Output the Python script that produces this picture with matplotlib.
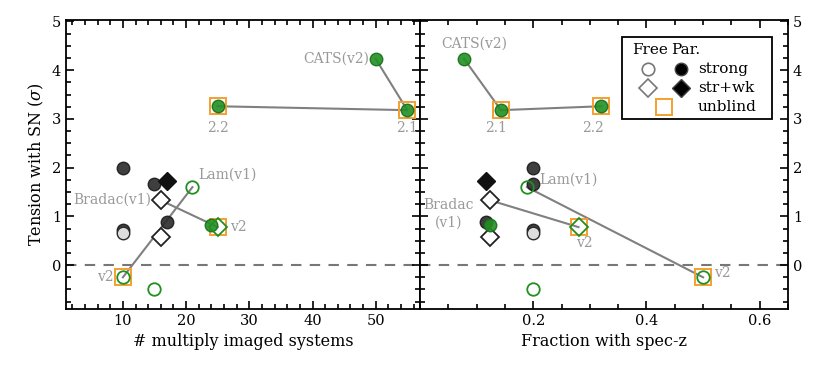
import matplotlib
matplotlib.use("Agg")
import matplotlib.pyplot as plt
from matplotlib.patches import Rectangle
from matplotlib.ticker import MultipleLocator

plt.rcParams['font.family'] = ['DejaVu Serif']
plt.rcParams['mathtext.fontset'] = 'dejavuserif'

# ---- data ----
# each model: tension, number of multiply imaged systems, fraction with spec-z
tension    = [2.00, 1.67, 1.72, 0.88, 0.72, 0.65, 1.33, 0.58, 1.60, 0.83, 0.78, -0.25, -0.49, 4.23, 3.18, 3.26]
n_systems  = [10,   15,   17,   17,   10,   10,   16,   16,   21,   24,   25,   10,    15,    50,   55,   25]
frac_specz = [0.200, 0.200, 0.117, 0.116, 0.200, 0.200, 0.124, 0.124, 0.189, 0.124, 0.280, 0.500, 0.200, 0.078, 0.143, 0.320]
kind       = ['pc', 'pc', 'pd', 'pc', 'pc', 'pcl', 'fd', 'fd', 'gfc', 'gpc', 'gfd', 'gfc', 'gfc', 'gpc', 'gpc', 'gpc']
unblind    = [False]*10 + [True, True, False, False, True, True]

# connecting lines (indices)
links = [[13, 14, 15], [6, 10], [8, 11]]

GREEN = '#228f22'
GREY = '#999999'

fig = plt.figure(figsize=(8.3, 3.73), dpi=100)
axL = fig.add_axes([0.0795, 0.1716, 0.4265, 0.7748])
axR = fig.add_axes([0.506, 0.1716, 0.4434, 0.7748])


def style(ax):
    ax.tick_params(which='both', direction='in', top=True, bottom=True, left=True, right=True,
                   labelsize=10.5, width=1.2)
    ax.tick_params(which='major', length=6)
    ax.tick_params(which='minor', length=3.5)
    for s in ax.spines.values():
        s.set_linewidth(1.3)
    ax.set_ylim(-0.9, 5.03)
    ax.yaxis.set_major_locator(MultipleLocator(1))
    ax.yaxis.set_minor_locator(MultipleLocator(0.25))
    ax.axhline(0, color='#777777', ls=(0, (5, 4)), lw=1.5, zorder=1)


def draw(ax, xs):
    for lk in links:
        ax.plot([xs[i] for i in lk], [tension[i] for i in lk], color='#808080', lw=1.5, zorder=2)
    for i, (x, y) in enumerate(zip(xs, tension)):
        k = kind[i]
        if unblind[i]:
            ax.plot(x, y, marker='s', ms=11, mfc='none', mec='#f5a030', mew=1.4, zorder=3)
        if k == 'pc':
            ax.plot(x, y, 'o', ms=9, mfc='#2a2a2a', mec='#1a1a1a', alpha=0.9, zorder=4)
        elif k == 'pcl':
            ax.plot(x, y, 'o', ms=9, mfc='#dddddd', mec='#2a2a2a', mew=1.0, zorder=4)
        elif k == 'pd':
            ax.plot(x, y, 'D', ms=9, mfc='#111111', mec='#111111', zorder=4)
        elif k == 'fd':
            ax.plot(x, y, 'D', ms=9, mfc='white', mec='#222222', mew=1.3, zorder=4)
        elif k == 'gfc':
            ax.plot(x, y, 'o', ms=9, mfc='none', mec=GREEN, mew=1.3, zorder=5)
        elif k == 'gfd':
            ax.plot(x, y, 'D', ms=9, mfc='none', mec=GREEN, mew=1.3, zorder=5)
        elif k == 'gpc':
            ax.plot(x, y, 'o', ms=9, mfc=GREEN, mec='#177017', alpha=0.9, zorder=5)


style(axL)
style(axR)
draw(axL, n_systems)
draw(axR, frac_specz)

axL.set_xlim(1, 57)
axL.xaxis.set_minor_locator(MultipleLocator(2))
axL.set_xticks([10, 20, 30, 40, 50])
axL.set_xlabel('# multiply imaged systems', fontsize=11.5)
axL.set_ylabel(r'Tension with SN ($\sigma$)', fontsize=11.5)

axR.set_xlim(0, 0.65)
axR.set_xticks([0.2, 0.4, 0.6])
axR.set_xticklabels(['0.2', '0.4', '0.6'])
axR.xaxis.set_minor_locator(MultipleLocator(0.05))
axR.tick_params(labelleft=False, labelright=True)
axR.set_xlabel('Fraction with spec-z', fontsize=11.5)

tk = dict(color=GREY, fontsize=10)
# left annotations
axL.text(49, 4.23, 'CATS(v2)', ha='right', va='center', **tk)
axL.text(25, 2.95, '2.2', ha='center', va='top', **tk)
axL.text(55, 2.95, '2.1', ha='center', va='top', **tk)
axL.text(22, 1.85, 'Lam(v1)', ha='left', va='center', **tk)
axL.text(14.5, 1.35, 'Bradac(v1)', ha='right', va='center', **tk)
axL.text(27, 0.78, 'v2', ha='left', va='center', **tk)
axL.text(8.6, -0.25, 'v2', ha='right', va='center', **tk)
# right annotations
axR.text(0.095, 4.55, 'CATS(v2)', ha='center', va='center', **tk)
axR.text(0.135, 2.95, '2.1', ha='center', va='top', **tk)
axR.text(0.305, 2.95, '2.2', ha='center', va='top', **tk)
axR.text(0.21, 1.75, 'Lam(v1)', ha='left', va='center', **tk)
axR.text(0.05, 1.05, 'Bradac\n(v1)', ha='center', va='center', linespacing=1.3, **tk)
axR.text(0.29, 0.45, 'v2', ha='center', va='center', **tk)
axR.text(0.52, -0.17, 'v2', ha='left', va='center', **tk)

# legend (drawn manually in axes coordinates)
T = axR.transAxes
axR.add_patch(Rectangle((0.549, 0.657), 0.408, 0.284, transform=T, fill=True, fc='white',
                        ec='black', lw=1.3, zorder=10))
axR.text(0.577, 0.896, 'Free', transform=T, ha='left', va='center', fontsize=11, zorder=11)
axR.text(0.683, 0.896, 'Par.', transform=T, ha='left', va='center', fontsize=11, zorder=11)
axR.plot(0.620, 0.830, 'o', transform=T, ms=9, mfc='white', mec='#777777', mew=1.2, zorder=11)
axR.plot(0.709, 0.830, 'o', transform=T, ms=9, mfc='black', mec='#444444', mew=1.0, zorder=11)
axR.plot(0.620, 0.765, 'D', transform=T, ms=9, mfc='white', mec='#777777', mew=1.2, zorder=11)
axR.plot(0.709, 0.765, 'D', transform=T, ms=9, mfc='black', mec='#444444', mew=1.0, zorder=11)
axR.plot(0.663, 0.699, 's', transform=T, ms=11, mfc='white', mec='#f5a030', mew=1.4, zorder=11)
axR.text(0.755, 0.830, 'strong', transform=T, ha='left', va='center', fontsize=11, zorder=11)
axR.text(0.755, 0.765, 'str+wk', transform=T, ha='left', va='center', fontsize=11, zorder=11)
axR.text(0.755, 0.699, 'unblind', transform=T, ha='left', va='center', fontsize=11, zorder=11)

fig.savefig('out.png', dpi=100)
